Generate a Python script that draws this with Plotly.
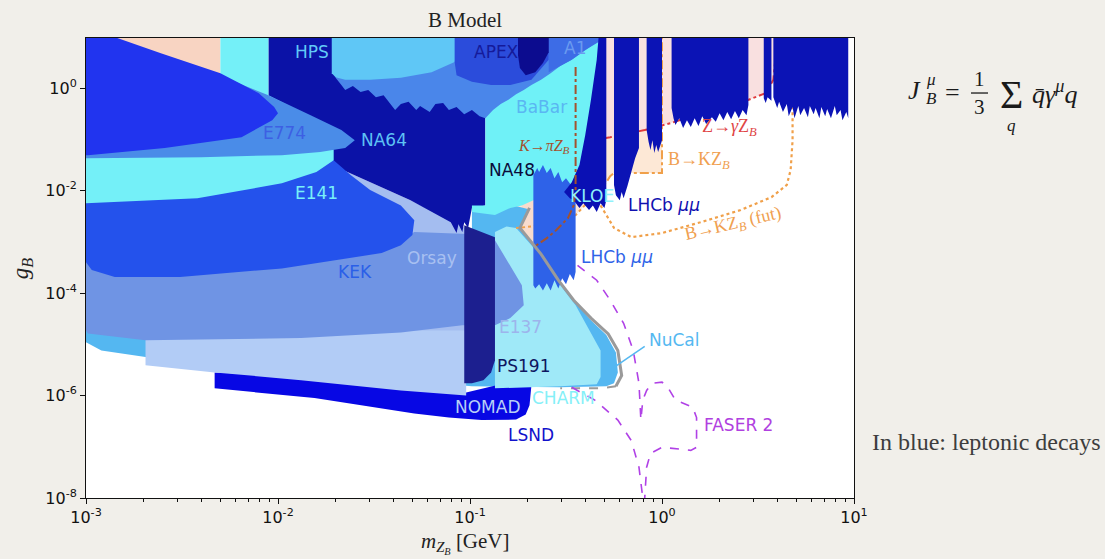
import numpy as np
import plotly.graph_objects as go

# ---------------------------------------------------------------
# Exclusion regions for the B-model gauge boson, given as
# boundary vertices in (log10 m_ZB [GeV], log10 g_B)
# ---------------------------------------------------------------
peach_tl_logm = [-3.0, -2.30, -2.30, -3.0]
peach_tl_logg = [1.0, 1.0, -0.5, -0.5]

zg_line_logm = [-0.40, -0.27, -0.09, 0.05, 0.20, 0.41, 0.54, 0.58, 0.59, 0.60]
zg_line_logg = [-1.04, -0.96, -0.82, -0.68, -0.49, -0.29, -0.10, 0.16, 0.55, 1.0]

bk_line_logm = [-0.76, -0.67, -0.45, -0.29, -0.27, -0.25, 0.00, 0.00]
bk_line_logg = [-2.73, -2.70, -2.48, -1.84, -1.72, -1.66, -1.66, 1.0]

bk_fut_logm = [-0.32, -0.29, -0.25, -0.16, 0.00, 0.20, 0.41, 0.57, 0.65, 0.67, 0.68, 0.68, 0.68]
bk_fut_logg = [-2.29, -2.48, -2.73, -2.91, -2.83, -2.62, -2.38, -2.13, -1.89, -1.60, -1.02, -0.49, 1.0]

kpi_fill_logm = [-0.73, -0.68, -0.59, -0.50, -0.46, -0.45, -0.45, -0.73]
kpi_fill_logg = [-3.11, -3.11, -2.81, -2.48, -2.19, -1.89, 0.39, 0.39]

kpi_line_logm = [-0.45, -0.45, -0.46, -0.49, -0.55, -0.60, -0.67]
kpi_line_logg = [0.41, -1.99, -2.29, -2.54, -2.77, -2.93, -3.11]

nucal_logm = [-3.0, -3.0, -2.92, -2.69, -2.33, -1.88, -1.36, -0.99, -0.53, -0.29, -0.25,
              -0.23, -0.24, -0.29, -0.37, -0.46, -0.55, -0.63, -0.74, -0.70, -0.76, -0.87,
              -0.99, -0.99]
nucal_logg = [-4.14, -4.96, -5.12, -5.25, -5.39, -5.55, -5.70, -5.82, -5.84, -5.82, -5.76,
              -5.55, -5.16, -4.82, -4.53, -4.14, -3.75, -3.26, -2.75, -2.36, -2.30, -2.29,
              -2.34, -4.14]

nomad_logm = [-2.33, -2.33, -1.81, -1.29, -1.11, -0.94, -0.76, -0.71, -0.69, -0.68, -0.84, -1.02, -1.88]
nomad_logg = [-5.55, -5.86, -6.05, -6.35, -6.43, -6.48, -6.47, -6.37, -6.19, -5.80, -5.78, -5.94, -5.61]

e137_low_logm = [-2.69, -2.69, -2.33, -1.88, -1.36, -1.02, -1.02]
e137_low_logg = [-4.53, -5.41, -5.55, -5.70, -5.90, -6.00, -4.53]

orsay_logm = [-3.0, -1.88, -1.72, -1.52, -1.31, -1.08, -0.99, -0.99, -3.0]
orsay_logg = [-2.19, -1.31, -1.50, -1.84, -2.19, -2.62, -2.81, -4.73, -4.73]

charm_logm = [-0.87, -0.81, -0.76, -0.68, -0.60, -0.53, -0.45, -0.37, -0.32, -0.32, -0.34, -0.53, -0.87]
charm_logg = [-2.81, -2.70, -2.73, -3.07, -3.46, -3.85, -4.24, -4.79, -5.12, -5.64, -5.78, -5.82, -5.86]

na64_logm = [-2.05, -0.92, -0.92, -0.99, -1.01, -1.03, -1.04, -1.06, -1.07, -1.10, -1.31, -1.52, -1.72, -1.88, -2.05]
na64_logg = [1.0, 1.0, -2.29, -2.34, -2.73, -2.62, -2.81, -2.66, -2.83, -2.62, -2.19, -1.84, -1.50, -1.21, -0.82]

na48_logm = [-0.92, -0.30, -0.32, -0.35, -0.39, -0.42, -0.50, -0.67, -0.73, -0.79, -0.87, -0.99, -0.99, -0.92]
na48_logg = [1.0, 1.0, 0.55, -0.23, -0.92, -1.60, -1.99, -2.19, -2.29, -2.34, -2.48, -2.42, -2.29, -2.29]

peri_logm = [-3.0, -1.46, -1.29, -1.01, -0.87, -0.80, -0.73, -0.72, -0.79, -0.87, -1.04, -1.36, -1.88, -2.69, -2.99, -3.0]
peri_logg = [-3.40, -3.16, -2.81, -2.85, -2.97, -3.40, -3.85, -4.24, -4.49, -4.63, -4.63, -4.77, -4.88, -4.92, -4.79, -4.73]

kek_logm = [-3.0, -1.71, -1.62, -1.52, -1.36, -1.29, -1.30, -1.36, -1.46, -1.98, -2.51, -2.85, -2.97, -3.0]
kek_logg = [-2.09, -1.41, -1.70, -1.99, -2.29, -2.58, -2.87, -3.07, -3.22, -3.52, -3.69, -3.69, -3.55, -3.40]

e141_logm = [-2.30, -2.05, -2.05, -1.88, -1.75, -1.71, -1.71, -1.80, -1.98, -2.42, -3.0, -3.0, -2.30]
e141_logg = [1.0, 1.0, -0.14, -0.47, -0.92, -1.21, -1.41, -1.64, -1.86, -2.15, -2.25, -0.63, 0.25]

e774_out_logm = [-3.0, -2.30, -2.17, -2.05, -1.83, -1.67, -1.60, -1.65, -1.78, -1.98, -2.40, -2.89, -3.0]
e774_out_logg = [-0.23, 0.25, 0.04, -0.14, -0.53, -0.82, -1.02, -1.17, -1.25, -1.31, -1.35, -1.37, -1.37]

e774_logm = [-3.0, -2.84, -2.61, -2.30, -2.10, -2.02, -2.00, -2.03, -2.19, -2.59, -2.99, -3.0]
e774_logg = [1.0, 0.98, 0.68, 0.29, -0.10, -0.37, -0.49, -0.63, -0.96, -1.17, -1.31, -1.31]

ps191_logm = [-1.03, -0.87, -0.87, -0.89, -0.93, -0.99, -1.03]
ps191_logg = [-2.68, -2.91, -5.31, -5.55, -5.70, -5.76, -5.76]

hps_logm = [-1.72, -1.05, -1.08, -1.20, -1.36, -1.52, -1.65, -1.70, -1.72]
hps_logg = [1.0, 1.0, 0.51, 0.31, 0.20, 0.16, 0.16, 0.21, 0.29]

babar_logm = [-1.70, -1.70, -1.67, -1.65, -1.61, -1.57, -1.53, -1.49, -1.45, -1.41, -1.39, -1.36,
              -1.32, -1.28, -1.26, -1.21, -1.18, -1.14, -1.11, -1.07, -1.03, -0.99, -0.95, -0.92,
              -0.88, -0.84, -0.80, -0.76, -0.72, -0.68, -0.63, -0.58, -0.53, -0.47, -0.42, -0.37,
              -0.32, -0.30]
babar_logg = [1.0, 0.20, 0.06, -0.04, 0.04, -0.08, -0.04, -0.18, -0.14, -0.33, -0.43, -0.31,
              -0.27, -0.43, -0.35, -0.47, -0.31, -0.29, -0.43, -0.37, -0.51, -0.43, -0.55, -0.59,
              -0.43, -0.31, -0.23, -0.12, -0.04, 0.06, 0.16, 0.29, 0.43, 0.55, 0.68, 0.80,
              0.94, 1.0]

apex_logm = [-1.08, -0.59, -0.59, -0.68, -0.79, -0.89, -0.99, -1.07, -1.08]
apex_logg = [1.0, 1.0, 0.55, 0.16, 0.06, 0.06, 0.12, 0.25, 0.51]

a1_logm = [-0.59, -0.30, -0.33, -0.40, -0.47, -0.55, -0.59]
a1_logg = [1.0, 1.0, 0.90, 0.74, 0.55, 0.39, 0.31]

apex_core_logm = [-0.75, -0.59, -0.59, -0.62, -0.66, -0.71, -0.74, -0.75]
apex_core_logg = [1.0, 1.0, 0.70, 0.49, 0.31, 0.25, 0.39, 0.64]

lhcb_low_logm = [-0.67, -0.65, -0.64, -0.62, -0.60, -0.58, -0.56, -0.54, -0.52, -0.50, -0.47, -0.45,
                 -0.45, -0.46, -0.48, -0.50, -0.52, -0.54, -0.56, -0.58, -0.60, -0.62, -0.64, -0.66, -0.67]
lhcb_low_logg = [-1.70, -1.56, -1.64, -1.50, -1.66, -1.56, -1.76, -1.64, -1.84, -1.76, -1.91, -1.89,
                 -3.59, -3.75, -3.63, -3.83, -3.71, -3.91, -3.75, -3.95, -3.81, -3.95, -3.83, -3.91, -3.85]

kloe_logm = [-0.51, -0.47, -0.43, -0.40, -0.37, -0.34, -0.33, -0.29, -0.29, -0.30, -0.32, -0.34,
             -0.36, -0.38, -0.41, -0.43, -0.46, -0.48]
kloe_logg = [-2.03, -1.84, -1.50, -0.92, -0.23, 0.55, 1.0, 1.0, -2.19, -2.34, -2.25, -2.42,
             -2.29, -2.38, -2.25, -2.34, -2.19, -2.15]

lhcb_mm_logm = [-0.25, -0.25, -0.24, -0.22, -0.21, -0.20, -0.18, -0.17, -0.15, -0.14, -0.12, -0.12,
                -0.08, -0.08, -0.07, -0.06, -0.05, -0.04, -0.03, -0.02, 0.00, 0.00,
                0.05, 0.05, 0.06, 0.07, 0.09, 0.11, 0.13, 0.15, 0.17, 0.19, 0.21, 0.23, 0.26, 0.28,
                0.30, 0.32, 0.34, 0.36, 0.38, 0.40, 0.42, 0.44, 0.45, 0.45,
                0.53, 0.53, 0.54, 0.55, 0.57, 0.57,
                0.58, 0.58, 0.60, 0.61, 0.63, 0.65, 0.66, 0.68, 0.69, 0.71, 0.72, 0.74, 0.76, 0.77,
                0.79, 0.80, 0.82, 0.83, 0.85, 0.86, 0.88, 0.90, 0.91, 0.93, 0.94, 0.96, 0.97, 0.97]
lhcb_mm_logg = [1.1, -1.89, -2.09, -2.19, -2.03, -2.15, -1.91, -1.76, -1.52, -1.37, -1.17, 1.1,
                1.1, -0.82, -1.05, -1.21, -1.02, -1.27, -1.11, -1.25, -1.02, 1.1,
                1.1, -0.39, -0.59, -0.72, -0.59, -0.78, -0.63, -0.76, -0.59, -0.74, -0.55, -0.70, -0.57, -0.66,
                -0.49, -0.63, -0.47, -0.61, -0.45, -0.59, -0.43, -0.53, -0.33, 1.1,
                1.1, -0.20, -0.29, -0.18, -0.25, 1.1,
                1.1, -0.18, -0.39, -0.27, -0.47, -0.31, -0.55, -0.37, -0.59, -0.35, -0.53, -0.39, -0.57, -0.35,
                -0.51, -0.39, -0.59, -0.37, -0.55, -0.41, -0.59, -0.35, -0.53, -0.43, -0.63, -0.47, -0.59, 1.1]

charm_edge_logm = [-0.69, -0.74, -0.63, -0.54, -0.46, -0.37, -0.28, -0.23, -0.21, -0.24]
charm_edge_logg = [-2.34, -2.73, -3.24, -3.75, -4.14, -4.49, -4.80, -5.12, -5.61, -5.82]
charm_base_logm = [-0.24, -0.32, -0.53]
charm_base_logg = [-5.82, -5.86, -5.86]

faser_a_logm = [-0.44, -0.34, -0.27, -0.20, -0.15, -0.12, -0.11, -0.10, -0.08, -0.05, 0.00, 0.03,
                0.07, 0.16, 0.18, 0.18, 0.15, 0.00, -0.06, -0.08, -0.09]
faser_a_logg = [-3.46, -3.75, -4.14, -4.59, -5.12, -5.76, -6.48, -6.09, -5.90, -5.76, -5.74, -5.84,
                -6.09, -6.23, -6.43, -7.01, -7.07, -7.01, -7.13, -7.40, -8.0]
faser_b_logm = [-0.47, -0.35, -0.23, -0.16, -0.12, -0.10]
faser_b_logg = [-5.84, -6.09, -6.48, -6.88, -7.40, -8.0]

nucal_pointer_logm = [-0.09, -0.25]
nucal_pointer_logg = [-5.04, -5.45]

# region labels: text, log10 m (left edge), log10 g (centre), colour
labels = [
    ("HPS", -1.92, 0.70, "#62c9f6"),
    ("APEX", -0.99, 0.70, "#151a9a"),
    ("A1", -0.52, 0.78, "#6a9af0"),
    ("BaBar", -0.77, -0.37, "#5ab6f2"),
    ("E774", -2.09, -0.88, "#3d5fe3"),
    ("NA64", -1.58, -1.02, "#5ec2f4"),
    ("NA48", -0.91, -1.60, "#0b0b3a"),
    ("KLOE", -0.49, -2.11, "#8ff2fb"),
    ("LHCb <i>μμ</i>", -0.19, -2.29, "#1010b0"),
    ("E141", -1.92, -2.05, "#78f0f8"),
    ("LHCb <i>μμ</i>", -0.43, -3.30, "#2e63e8"),
    ("Orsay", -1.34, -3.32, "#a8c0f1"),
    ("KEK", -1.70, -3.59, "#2a5fe8"),
    ("E137", -0.86, -4.67, "#9db4ec"),
    ("NuCal", -0.08, -4.92, "#55b8f1"),
    ("PS191", -0.87, -5.43, "#0e1660"),
    ("NOMAD", -1.09, -6.23, "#b8cff6"),
    ("CHARM", -0.69, -6.05, "#85f0f8"),
    ("FASER 2", 0.21, -6.58, "#b040e0"),
    ("LSND", -0.81, -6.78, "#1212cc"),
]

x_ticks = [1e-3, 1e-2, 1e-1, 1e0, 1e1]
x_ticktext = ["10<sup>-3</sup>", "10<sup>-2</sup>", "10<sup>-1</sup>", "10<sup>0</sup>", "10<sup>1</sup>"]
y_ticks = [1e-8, 1e-6, 1e-4, 1e-2, 1e0]
y_ticktext = ["10<sup>-8</sup>", "10<sup>-6</sup>", "10<sup>-4</sup>", "10<sup>-2</sup>", "10<sup>0</sup>"]

fig = go.Figure()


def region(lm, lg, color):
    fig.add_trace(go.Scatter(
        x=10 ** np.array(lm, dtype=float), y=10 ** np.array(lg, dtype=float),
        mode="lines", fill="toself", fillcolor=color,
        line=dict(width=0, color=color), hoverinfo="skip", showlegend=False))


def curve(lm, lg, color, dash="solid", width=1.8):
    fig.add_trace(go.Scatter(
        x=10 ** np.array(lm, dtype=float), y=10 ** np.array(lg, dtype=float),
        mode="lines", line=dict(color=color, width=width, dash=dash),
        hoverinfo="skip", showlegend=False))


# back layers: flavour / Z-decay bounds
region(peach_tl_logm, peach_tl_logg, "#f8d4c2")
region(bk_line_logm + [-0.76], bk_line_logg + [1.0], "#fde8d6")
region(zg_line_logm + [-0.40], zg_line_logg + [1.0], "#f9e0e0")
region(kpi_fill_logm, kpi_fill_logg, "#f8dccd")

# beam dump and fixed-target regions
region(nucal_logm, nucal_logg, "#54b7f1")
region(nomad_logm, nomad_logg, "#0707e4")
region(e137_low_logm, e137_low_logg, "#b2ccf6")
region(orsay_logm, orsay_logg, "#a4bdf0")
region(charm_logm, charm_logg, "#9fe9f8")
region(na64_logm, na64_logg, "#0b12a7")
region(na48_logm, na48_logg, "#6ff1f7")
region(peri_logm, peri_logg, "#6f94e4")
region(kek_logm, kek_logg, "#2452ec")
region(e141_logm, e141_logg, "#74f0f8")
region(e774_out_logm, e774_out_logg, "#4a8ce8")
region(e774_logm, e774_logg, "#2134ef")
region(ps191_logm, ps191_logg, "#1c1f8f")

# collider / resonance searches
region(babar_logm, babar_logg, "#4a86ea")
region(hps_logm, hps_logg, "#5fc7f6")
region(apex_logm, apex_logg, "#2b4cdb")
region(a1_logm, a1_logg, "#3d6ce6")
region(apex_core_logm, apex_core_logg, "#0c0c8f")

curve(bk_line_logm, bk_line_logg, "#f0a04a", "dashdot", 2)
curve(zg_line_logm, zg_line_logg, "#e03b3b", "dashdot", 2)
curve(bk_fut_logm, bk_fut_logg, "#f0a04a", "dot", 2.2)

region(lhcb_low_logm, lhcb_low_logg, "#2e62e8")
region(kloe_logm, kloe_logg, "#0a10b4")
region(lhcb_mm_logm, lhcb_mm_logg, "#0b13b5")

curve(kpi_line_logm, kpi_line_logg, "#a3522e", "dashdot", 2)
curve(charm_edge_logm, charm_edge_logg, "#9a9a9a", "solid", 3)
curve(charm_base_logm, charm_base_logg, "#9a9a9a", "dash", 2)
curve(faser_a_logm, faser_a_logg, "#b041e6", "dash", 1.6)
curve(faser_b_logm, faser_b_logg, "#b041e6", "dash", 1.6)
curve(nucal_pointer_logm, nucal_pointer_logg, "#55b8f1", "solid", 1.5)

annotations = []
for text, lm, lg, col in labels:
    annotations.append(dict(x=lm, y=lg, xref="x", yref="y", text=text, showarrow=False,
                            xanchor="left", yanchor="middle",
                            font=dict(family="DejaVu Sans", size=17, color=col)))

serif = "Liberation Serif"
annotations += [
    dict(x=-0.76, y=-1.15, xref="x", yref="y", xanchor="left", yanchor="middle", showarrow=False,
         text="<i>K</i>→<i>πZ</i><sub><i>B</i></sub>", font=dict(family=serif, size=16, color="#a3522e")),
    dict(x=0.20, y=-0.78, xref="x", yref="y", xanchor="left", yanchor="middle", showarrow=False,
         text="Z→<i>γ</i>Z<sub><i>B</i></sub>", font=dict(family=serif, size=18, color="#e04545")),
    dict(x=0.02, y=-1.41, xref="x", yref="y", xanchor="left", yanchor="middle", showarrow=False,
         text="B→KZ<sub><i>B</i></sub>", font=dict(family=serif, size=18, color="#f0a050")),
    dict(x=0.37, y=-2.66, xref="x", yref="y", xanchor="center", yanchor="middle", showarrow=False,
         textangle=-13, text="B→KZ<sub><i>B</i></sub> (fut)", font=dict(family=serif, size=18, color="#f0a050")),
]


def ptext(x, y, text, size, family=serif, color="#1a1a1a", xanchor="center", angle=0):
    return dict(x=x, y=y, xref="paper", yref="paper", showarrow=False, text=text,
                xanchor=xanchor, yanchor="middle", textangle=angle,
                font=dict(family=family, size=size, color=color))


# title and axis titles
annotations += [
    ptext(0.4935, 1.039, "B Model", 21, color="#222222"),
    ptext(0.4935, -0.098, "<i>m</i><sub><i>Z</i><sub><i>B</i></sub></sub> [GeV]", 21, color="#222222"),
    ptext(-0.083, 0.5, "<i>g</i><sub><i>B</i></sub>", 23, color="#222222", angle=-90),
]

# current definition, written beside the plot
annotations += [
    ptext(1.0794, 0.8848, "<i>J</i>", 26),
    ptext(1.1003, 0.9087, "<i>μ</i>", 17),
    ptext(1.1003, 0.8674, "<i>B</i>", 17),
    ptext(1.1289, 0.8826, "=", 26),
    ptext(1.1628, 0.9109, "1", 21),
    ptext(1.1628, 0.850, "3", 21),
    ptext(1.2057, 0.8761, "Σ", 40),
    ptext(1.2057, 0.8090, "<i>q</i>", 17),
    ptext(1.2292, 0.8826, "<i>q\u0304γ</i><sup><i>μ</i></sup><i>q</i>", 26, xanchor="left"),
    ptext(1.0208, 0.1217, "In blue: leptonic decays", 24, color="#3d3d3d", xanchor="left"),
]

shapes = [dict(type="line", xref="paper", yref="paper", x0=1.1523, x1=1.1745, y0=0.8804, y1=0.8804,
               line=dict(color="#1a1a1a", width=1.3))]

minor_x = [m * 10.0 ** e for e in range(-3, 1) for m in range(2, 10)]

fig.update_layout(
    width=1105, height=559,
    margin=dict(l=86, r=251, t=38, b=61),
    paper_bgcolor="#f1efea", plot_bgcolor="#ffffff",
    annotations=annotations, shapes=shapes,
    xaxis=dict(type="log", range=[-3, 1], tickvals=x_ticks, ticktext=x_ticktext,
               ticks="outside", ticklen=5, tickcolor="#111", showgrid=False, zeroline=False,
               showline=True, linecolor="#111", linewidth=1, mirror=True,
               tickfont=dict(family="DejaVu Sans", size=16, color="#111"),
               minor=dict(tickvals=minor_x, ticks="outside", ticklen=3, tickcolor="#111", showgrid=False)),
    yaxis=dict(type="log", range=[-8, 0.976], tickvals=y_ticks, ticktext=y_ticktext,
               ticks="outside", ticklen=5, tickcolor="#111", showgrid=False, zeroline=False,
               showline=True, linecolor="#111", linewidth=1, mirror=True,
               tickfont=dict(family="DejaVu Sans", size=16, color="#111")),
)

fig.write_html("out.html")
